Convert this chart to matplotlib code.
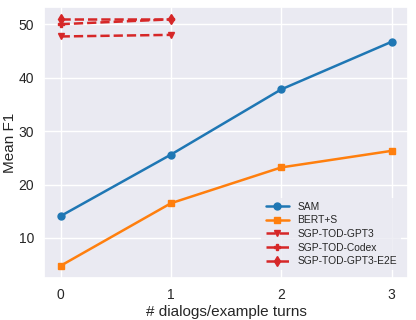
import matplotlib
matplotlib.use("Agg")
import matplotlib.pyplot as plt
import seaborn as sns

# ── data ─────────────────────────────────────────────────────────────────
turns = [0, 1, 2, 3]
sam = [14.1, 25.6, 37.8, 46.7]
bert_s = [4.8, 16.5, 23.2, 26.3]

sgp_turns = [0, 1]
sgp_gpt3 = [47.7, 48.0]
sgp_codex = [50.0, 50.9]
sgp_gpt3_e2e = [50.9, 50.9]

sns.set_theme(style="darkgrid")
plt.rcParams["font.family"] = ["Liberation Sans", "DejaVu Sans"]

fig, ax = plt.subplots(figsize=(4.16, 3.2), dpi=100)
fig.subplots_adjust(left=0.106, right=0.981, bottom=0.131, top=0.978)

ax.plot(turns, sam, marker="o", ms=5, lw=1.8, color="tab:blue", label="SAM")
ax.plot(turns, bert_s, marker="s", ms=5, lw=1.8, color="tab:orange", label="BERT+S")
ax.plot(sgp_turns, sgp_gpt3, marker="v", ms=5, lw=1.8, ls="--", color="tab:red", label="SGP-TOD-GPT3")
ax.plot(sgp_turns, sgp_codex, marker="P", ms=5, lw=1.8, ls="--", color="tab:red", label="SGP-TOD-Codex")
ax.plot(sgp_turns, sgp_gpt3_e2e, marker="d", ms=5, lw=1.8, ls="--", color="tab:red", label="SGP-TOD-GPT3-E2E")

ax.set_xticks(turns)
ax.set_yticks([10, 20, 30, 40, 50])
ax.tick_params(labelsize=10, pad=1)
ax.set_xlabel("# dialogs/example turns", fontsize=11, labelpad=2)
ax.set_ylabel("Mean F1", fontsize=11, labelpad=1)

leg = ax.legend(loc="lower right", bbox_to_anchor=(0.995, 0.01), fontsize=7.4,
                labelspacing=0.35, handlelength=2.3,
                facecolor="#EAEAF2", edgecolor="none", framealpha=0.8)

fig.savefig("out.png", dpi=100)
